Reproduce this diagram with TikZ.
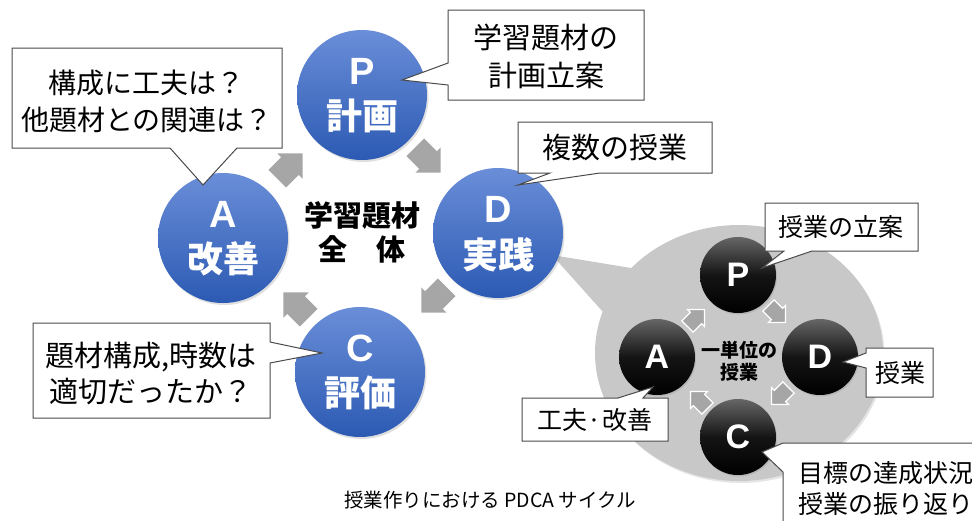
\documentclass[tikz,border=0pt]{standalone}
\usepackage{fontspec}
\setmainfont{Noto Sans CJK JP}
\newfontfamily\lat{Liberation Sans}
\usetikzlibrary{shapes.geometric,shadows}
\definecolor{blueA}{HTML}{6A8ED8}
\definecolor{blueB}{HTML}{2C5AB3}
\definecolor{arrowgray}{HTML}{A6A6A6}
\definecolor{blobgray}{HTML}{C8C8C8}
\definecolor{calline}{HTML}{4A4A4A}
\begin{document}
\begin{tikzpicture}[x=1pt,y=-1pt,
  bluecircle/.style={circle, minimum size=130pt, inner sep=0pt, top color=blueA, bottom color=blueB, draw=none,
     drop shadow={opacity=0.25, shadow xshift=1.5pt, shadow yshift=-2pt}},
  blackcircle/.style={circle, minimum size=76pt, inner sep=0pt, top color=black!60, bottom color=black, middle color=black!92, draw=none,
     drop shadow={opacity=0.25, shadow xshift=1pt, shadow yshift=-1.5pt}},
  bigletter/.style={text=white, font=\lat\bfseries\fontsize{38}{42}\selectfont, inner sep=0pt},
  bigword/.style={text=white, font=\bfseries\fontsize{36}{40}\selectfont, inner sep=0pt},
  smallletter/.style={text=white, font=\lat\bfseries\fontsize{34}{38}\selectfont, inner sep=0pt},
  blockarr/.pic={\fill[arrowgray] (-18,-12.5) -- (0,-12.5) -- (0,-18) -- (18,0) -- (0,18) -- (0,12.5) -- (-18,12.5) -- cycle;},
  minarr/.pic={\filldraw[fill=arrowgray, draw=white, line width=1.2pt, line join=miter] (-12,-8) -- (0,-8) -- (0,-12) -- (12,0) -- (0,12) -- (0,8) -- (-12,8) -- cycle;},
  callout/.style={draw=calline, fill=white, line width=1pt, line join=miter},
  caltext/.style={align=center, inner sep=0pt},
]
\useasboundingbox (0,0) rectangle (972,520);
\fill[white] (0,0) rectangle (972,520);

% gray bubble
\node[ellipse, minimum width=288pt, minimum height=256pt, fill=blobgray, inner sep=0pt,
      drop shadow={opacity=0.2, shadow xshift=1.5pt, shadow yshift=-2pt}] (blob) at (739,353) {};
\coordinate (blobtip) at (552,255);
\fill[blobgray] (631,268) -- (blobtip) -- (603,312) -- (620,300) -- cycle;

% big blue circles
\node[bluecircle] (P) at (362,95) {};
\node[bluecircle] (D) at (498,233) {};
\node[bluecircle] (C) at (360,372) {};
\node[bluecircle] (A) at (223,238) {};
\node[bigletter] (Pl) at (362,71) {P};
\node[bigword]   (Pw) at (362,116) {計画};
\node[bigletter] (Dl) at (498,209) {D};
\node[bigword]   (Dw) at (498,255) {実践};
\node[bigletter] (Cl) at (360,348) {C};
\node[bigword]   (Cw) at (360,393) {評価};
\node[bigletter] (Al) at (223,214) {A};
\node[bigword]   (Aw) at (223,259) {改善};

\node[font=\bfseries\fontsize{29}{34}\selectfont, align=center] (center) at (362,232) {学習題材\\全\hspace{1em}体};

% block arrows
\pic (aPD) [rotate=-45] at (428,160) {blockarr};
\pic (aDC) [rotate=-135] at (434,300) {blockarr};
\pic (aCA) [rotate=135] at (296,305) {blockarr};
\pic (aAP) [rotate=45] at (290,166) {blockarr};

% callouts (main cycle)
\draw[callout] (12,48) -- (282,48) -- (282,148) -- (237,148) -- (203,185) -- (170,148) -- (12,148) -- cycle;
\node[caltext, font=\fontsize{28}{37}\selectfont] (tA) at (147,101) {構成に工夫は？\\他題材との関連は？};

\draw[callout] (448,10) -- (644,10) -- (644,100) -- (448,100) -- (448,85) -- (402,80) -- (448,63) -- cycle;
\node[caltext, font=\fontsize{29}{38}\selectfont] (tP) at (546,56) {学習題材の\\計画立案};

\draw[callout] (518,122) -- (712,122) -- (712,173) -- (600,173) -- (518,185) -- (550,173) -- (518,173) -- cycle;
\node[caltext, font=\fontsize{29}{34}\selectfont] (tD) at (615,148) {複数の授業};

\draw[callout] (33,323) -- (270,323) -- (270,342) -- (322,353) -- (270,363) -- (270,418) -- (33,418) -- cycle;
\node[caltext, font=\fontsize{29}{36}\selectfont] (tC) at (151,374) {題材構成,時数は\\適切だったか？};

% small cycle
\node[blackcircle] (p) at (738,275) {};
\node[blackcircle] (d) at (820,357) {};
\node[blackcircle] (c) at (738,437) {};
\node[blackcircle] (a) at (657,357) {};
\node[smallletter] (pl) at (738,275) {P};
\node[smallletter] (dl) at (820,357) {D};
\node[smallletter] (cl) at (738,437) {C};
\node[smallletter] (al) at (657,357) {A};
\node[font=\bfseries\fontsize{19}{22}\selectfont, align=center, inner sep=0pt] (unit) at (739,361) {一単位の\\授業};

\pic (mPD) [rotate=-45] at (777,314) {minarr};
\pic (mDC) [rotate=-135] at (780,396) {minarr};
\pic (mCA) [rotate=135] at (699,400) {minarr};
\pic (mAP) [rotate=45] at (696,318) {minarr};

% callouts (small cycle)
\draw[callout] (765,203) -- (918,203) -- (918,251) -- (812,251) -- (762,268) -- (784,251) -- (765,251) -- cycle;
\node[caltext, font=\fontsize{25}{30}\selectfont] (tp) at (841,227) {授業の立案};

\draw[callout] (866,348) -- (933,348) -- (933,397) -- (866,397) -- (866,368) -- (843,362) -- (866,353) -- cycle;
\node[caltext, font=\fontsize{25}{30}\selectfont] (td) at (900,373) {授業};

\draw[callout] (522,398) -- (618,398) -- (653,387) -- (643,398) -- (668,398) -- (668,441) -- (522,441) -- cycle;
\node[caltext, font=\fontsize{25}{30}\selectfont] (ta) at (595,420) {工夫·改善};

\draw[callout] (783,443) -- (990,443) -- (990,540) -- (783,540) -- (783,472) -- (762,452) -- cycle;
\node[caltext, font=\fontsize{25}{31}\selectfont] (tc) at (886,488) {目標の達成状況\\授業の振り返り};

% caption
\node[font=\fontsize{19.5}{22}\selectfont, inner sep=0pt] (cap) at (490,500) {授業作りにおける PDCA サイクル};
\end{tikzpicture}
\end{document}
